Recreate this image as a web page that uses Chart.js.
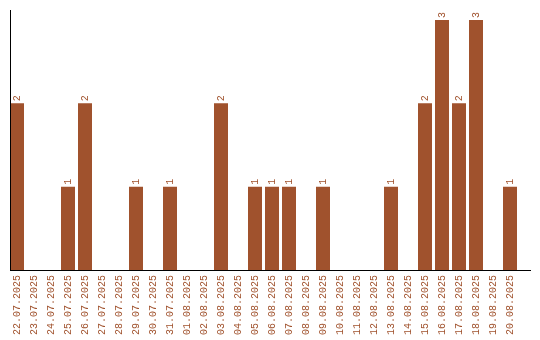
<!DOCTYPE html>
<html>
<head>
<meta charset="utf-8">
<script src="https://cdn.jsdelivr.net/npm/chart.js@4/dist/chart.umd.min.js"></script>
<style>
  html, body { margin: 0; padding: 0; background: #fff; }
  #wrap { width: 540px; height: 340px; }
</style>
</head>
<body>
<div id="wrap"><canvas id="chart" width="540" height="340"></canvas></div>
<script>
// Données
const dates = [
  '22.07.2025', '23.07.2025', '24.07.2025', '25.07.2025', '26.07.2025',
  '27.07.2025', '28.07.2025', '29.07.2025', '30.07.2025', '31.07.2025',
  '01.08.2025', '02.08.2025', '03.08.2025', '04.08.2025', '05.08.2025',
  '06.08.2025', '07.08.2025', '08.08.2025', '09.08.2025', '10.08.2025',
  '11.08.2025', '12.08.2025', '13.08.2025', '14.08.2025', '15.08.2025',
  '16.08.2025', '17.08.2025', '18.08.2025', '19.08.2025', '20.08.2025'
];
const counts = [2, 0, 0, 1, 2, 0, 0, 1, 0, 1, 0, 0, 2, 0, 1, 1, 1, 0, 1, 0, 0, 0, 1, 0, 2, 3, 2, 3, 0, 1];

const BROWN = '#A0522D';
const FONT = 'Liberation Mono';

// Axes + valeurs au-dessus des barres
const barLabels = {
  id: 'barLabels',
  afterDatasetsDraw(chart) {
    const ctx = chart.ctx;
    const area = chart.chartArea;
    ctx.save();
    ctx.fillStyle = '#000';
    ctx.fillRect(10, area.top, 1, area.bottom - area.top + 1);
    ctx.fillRect(10, area.bottom, 521, 1);

    ctx.fillStyle = BROWN;
    ctx.font = '10px "' + FONT + '"';
    ctx.textAlign = 'left';
    ctx.textBaseline = 'middle';
    chart.getDatasetMeta(0).data.forEach((bar, i) => {
      if (!counts[i]) return;
      ctx.save();
      ctx.translate(bar.x, bar.y - 2);
      ctx.rotate(-Math.PI / 2);
      ctx.fillText(String(counts[i]), 0, 0);
      ctx.restore();
    });
    ctx.restore();
  }
};

new Chart(document.getElementById('chart'), {
  type: 'bar',
  data: {
    labels: dates,
    datasets: [{
      data: counts,
      backgroundColor: BROWN,
      borderWidth: 0,
      barPercentage: 14 / 17,
      categoryPercentage: 1
    }]
  },
  options: {
    responsive: false,
    animation: false,
    layout: { padding: { left: 8.5, right: 21.5, top: 10, bottom: 0 } },
    plugins: { legend: { display: false }, tooltip: { enabled: false } },
    scales: {
      y: { display: false, min: 0, max: 3.12 },
      x: {
        grid: { display: false },
        border: { display: false },
        ticks: {
          color: BROWN,
          font: { family: FONT, size: 10 },
          minRotation: 90,
          maxRotation: 90,
          autoSkip: false,
          padding: -3
        },
        afterFit: scale => { scale.height = 70; }
      }
    }
  },
  plugins: [barLabels]
});
</script>
</body>
</html>
